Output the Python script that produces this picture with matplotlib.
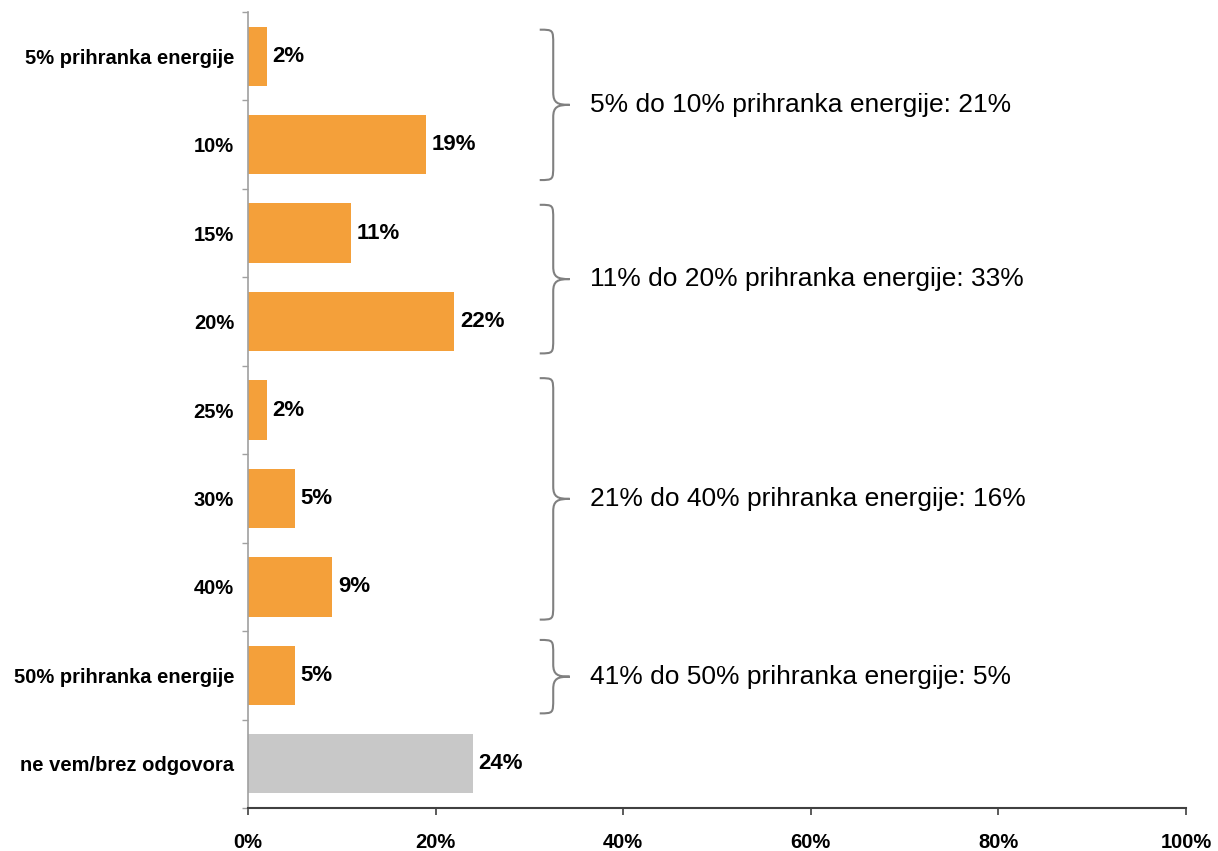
import matplotlib
matplotlib.use("Agg")
import matplotlib.pyplot as plt
from matplotlib.path import Path
from matplotlib.patches import PathPatch
from matplotlib.ticker import FixedLocator

categories = ["5% prihranka energije", "10%", "15%", "20%", "25%", "30%", "40%",
              "50% prihranka energije", "ne vem/brez odgovora"]
values = [2, 19, 11, 22, 2, 5, 9, 5, 24]
value_labels = ["2%", "19%", "11%", "22%", "2%", "5%", "9%", "5%", "24%"]
x_ticks = [0, 20, 40, 60, 80, 100]
x_tick_labels = ["0%", "20%", "40%", "60%", "80%", "100%"]
group_labels = ["5% do 10% prihranka energije: 21%",
                "11% do 20% prihranka energije: 33%",
                "21% do 40% prihranka energije: 16%",
                "41% do 50% prihranka energije: 5%"]

ORANGE = "#F4A03A"
GREY = "#C8C8C8"
colors = [ORANGE] * 8 + [GREY]

plt.rcParams['font.family'] = ['Liberation Sans', 'DejaVu Sans']

fig = plt.figure(figsize=(12.18, 8.51), dpi=100)
ax = fig.add_axes([248/1218, 1-808/851, (1186-248)/1218, (808-12)/851])

ypos = list(range(len(categories)))
ax.barh(ypos, values, height=0.67, color=colors, edgecolor="none")
ax.set_xlim(0, 100)
ax.set_ylim(len(categories) - 0.5, -0.5)

for y, v, lab in zip(ypos, values, value_labels):
    ax.annotate(lab, (v, y), xytext=(4, 0), textcoords="offset points",
                ha="left", va="center", fontsize=16, fontweight="bold")

ax.set_yticks(ypos)
ax.set_yticklabels(categories, fontsize=14.5, fontweight="bold")
ax.tick_params(axis="y", which="major", length=0, pad=10)
ax.yaxis.set_minor_locator(FixedLocator([i - 0.5 for i in range(len(categories) + 1)]))
ax.tick_params(axis="y", which="minor", length=4, color="#A0A0A0", width=1)

ax.set_xticks(x_ticks)
ax.set_xticklabels(x_tick_labels, fontsize=14.5, fontweight="bold")
ax.tick_params(axis="x", length=5, color="#404040", width=1.2, pad=13)

for s in ["top", "right"]:
    ax.spines[s].set_visible(False)
ax.spines["left"].set_color("#A0A0A0")
ax.spines["left"].set_linewidth(1.2)
ax.spines["bottom"].set_color("#404040")
ax.spines["bottom"].set_linewidth(1.5)


def brace(ax, y0, y1, x0=31.1, w=3.2, r=0.17, rm=0.14):
    xm = x0 + w * 0.45
    ym = (y0 + y1) / 2
    verts = [
        (x0, y0), (xm, y0), (xm, y0), (xm, y0 + r),
        (xm, ym - rm),
        (xm, ym - 0.02), (xm + w * 0.15, ym), (x0 + w, ym),
        (xm + w * 0.15, ym), (xm, ym + 0.02), (xm, ym + rm),
        (xm, y1 - r),
        (xm, y1), (xm, y1), (x0, y1),
    ]
    codes = [Path.MOVETO, Path.CURVE4, Path.CURVE4, Path.CURVE4,
             Path.LINETO,
             Path.CURVE4, Path.CURVE4, Path.CURVE4,
             Path.CURVE4, Path.CURVE4, Path.CURVE4,
             Path.LINETO,
             Path.CURVE4, Path.CURVE4, Path.CURVE4]
    ax.add_patch(PathPatch(Path(verts, codes), fill=False, edgecolor="#808080",
                           linewidth=1.5, clip_on=False))
    return ym

brace_extents = [(-0.30, 1.40), (1.68, 3.36), (3.64, 6.37), (6.60, 7.43)]
for (b0, b1), lab in zip(brace_extents, group_labels):
    ym = brace(ax, b0, b1)
    ax.text(36.5, ym, lab, ha="left", va="center", fontsize=19)

fig.savefig("out.png", dpi=100)
